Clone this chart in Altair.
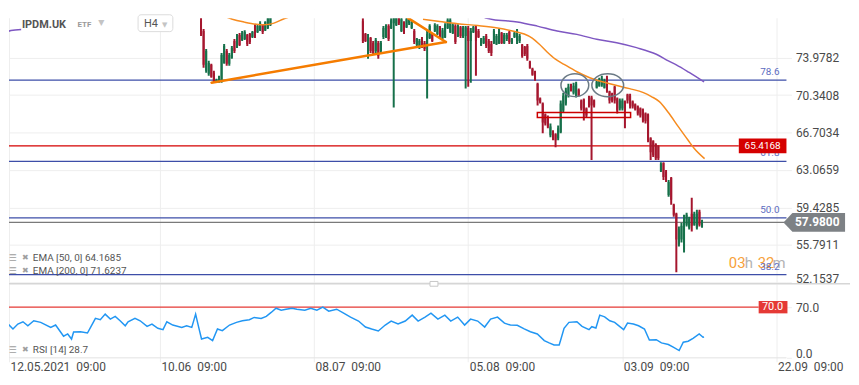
import altair as alt
import numpy as np
import pandas as pd

# ---------------- candles (x = 4h trading-bar index, 0 = 12.05.2021 09:00) ----------------
SEG1_START = 76
OPEN_1 = [77.52, 76.56, 72.70, 72.41, 73.28, 72.51, 71.64, 71.64, 71.74, 73.47, 74.63, 73.38, 73.96, 75.59,
          75.02, 76.17, 75.69, 75.79, 76.17, 76.27, 75.98, 77.04, 76.46, 76.65, 77.14, 76.65, 76.85, 77.14]
HIGH_1 = [78.10, 76.75, 74.82, 73.67, 73.38, 72.70, 71.93, 72.22, 74.44, 75.30, 74.82, 74.44, 75.11, 75.79,
          76.27, 76.37, 76.56, 76.65, 76.27, 76.37, 76.56, 77.23, 77.23, 77.52, 77.23, 77.52, 78.00, 78.29]
LOW_1 = [76.08, 72.99, 72.51, 72.22, 72.03, 71.55, 71.55, 71.55, 71.55, 73.38, 73.18, 73.18, 73.86, 74.44,
         74.92, 75.11, 75.59, 75.69, 75.11, 75.30, 75.88, 75.88, 76.37, 76.56, 76.27, 76.56, 76.75, 77.04]
CLOSE_1 = [76.27, 73.28, 74.63, 73.47, 72.12, 71.64, 71.83, 72.12, 74.24, 75.11, 73.38, 74.24, 74.92, 74.63,
           76.08, 75.21, 76.37, 76.46, 75.30, 75.50, 76.46, 76.08, 77.04, 77.33, 76.46, 77.43, 77.81, 78.10]

SEG2_START = 139
OPEN_2 = [77.52, 76.27, 74.15, 75.88, 75.40, 74.63, 75.40, 74.63, 75.98, 76.08, 77.04, 76.85, 77.33, 77.14,
          77.81, 76.56, 77.33, 76.94, 77.33, 76.85, 76.56, 75.21, 74.92, 75.79, 75.40, 75.11, 75.88, 76.27,
          76.56, 76.27, 76.94, 75.88, 75.98, 76.85, 76.46, 76.37,
          77.04, 76.08, 76.94, 75.98, 76.08, 76.85, 75.59, 76.46, 76.94, 76.56, 75.21, 75.40, 76.08, 75.59,
          75.30, 75.40, 75.30, 75.40, 76.37, 75.40, 75.79, 76.46, 75.40, 75.98, 75.59, 75.59, 75.21, 75.02,
          75.11, 73.57, 72.89, 72.61, 71.45, 70.00, 69.52, 68.46, 68.07, 66.44, 66.82, 66.53, 66.15,
          66.73, 68.85, 69.52, 70.29, 71.35, 70.58, 70.20, 70.87, 69.81, 69.91, 69.04, 70.20, 70.10, 69.81,
          71.06, 71.26, 71.35, 71.06, 72.03, 70.68, 70.48, 71.16, 70.00, 69.04, 69.04, 69.71, 70.39, 70.29,
          69.71, 69.42, 69.23, 69.04, 68.94, 68.56, 68.46, 66.15, 65.86, 65.57, 65.38, 62.97, 63.74, 62.87,
          60.65, 62.29, 59.69, 58.82, 55.83, 56.31, 55.35, 57.76, 57.47, 58.82, 57.76, 57.47, 59.01, 57.57]
HIGH_2 = [77.81, 76.37, 76.27, 75.98, 75.59, 75.88, 75.59, 75.59, 77.04, 77.23, 77.23, 77.81, 78.00, 78.10,
          78.10, 78.00, 77.52, 77.91, 78.00, 77.62, 76.75, 75.88, 75.79, 75.98, 75.59, 76.56, 77.23, 76.37,
          77.33, 77.23, 77.04, 76.85, 77.33, 77.81, 77.81, 77.33,
          77.23, 77.23, 77.04, 77.04, 77.04, 77.04, 76.85, 77.04, 77.04, 76.75, 75.88, 76.08, 76.27, 75.79,
          75.59, 76.75, 76.27, 76.75, 76.46, 76.37, 76.37, 76.56, 75.88, 76.56, 76.75, 76.27, 75.30, 75.11,
          75.30, 73.67, 72.99, 72.70, 71.55, 70.10, 69.62, 68.56, 68.36, 67.59, 66.92, 66.63, 67.40,
          69.81, 70.58, 71.06, 71.45, 71.45, 71.55, 71.64, 70.97, 69.91, 70.00, 69.14, 70.29, 70.29, 69.91,
          71.83, 72.03, 72.22, 71.93, 72.22, 70.77, 70.58, 71.26, 70.10, 70.00, 70.00, 69.81, 70.48, 70.48,
          69.81, 69.52, 69.33, 69.14, 69.04, 68.65, 68.56, 66.24, 65.95, 65.66, 65.47, 63.83, 63.83, 63.06,
          62.10, 62.39, 59.78, 58.92, 57.57, 57.95, 58.72, 58.92, 58.53, 60.36, 59.01, 59.21, 59.21, 58.24]
LOW_2 = [75.40, 75.50, 73.86, 74.44, 74.34, 74.34, 73.86, 74.44, 75.79, 75.88, 75.59, 76.75, 69.14, 77.04,
         77.14, 76.46, 76.27, 76.85, 77.14, 76.75, 75.30, 75.11, 74.82, 74.92, 74.63, 70.00, 75.79, 75.50,
         76.46, 76.17, 75.88, 75.79, 75.88, 76.75, 76.37, 76.27,
         75.30, 75.98, 75.88, 75.88, 70.97, 71.16, 71.55, 76.37, 72.22, 75.88, 75.11, 75.30, 74.92, 74.44,
         74.15, 75.30, 75.21, 75.30, 75.30, 75.30, 75.59, 75.30, 75.30, 75.88, 75.30, 75.40, 73.96, 74.15,
         73.67, 72.89, 72.22, 71.74, 69.33, 69.52, 66.63, 67.40, 67.11, 66.24, 65.95, 65.28, 65.95,
         66.63, 68.65, 69.33, 70.10, 70.68, 70.39, 70.10, 70.20, 68.85, 67.88, 68.17, 69.14, 64.03, 69.14,
         70.97, 71.16, 71.16, 70.97, 70.58, 69.52, 69.62, 69.52, 68.56, 68.85, 68.85, 67.11, 69.52, 69.04,
         69.04, 68.85, 68.36, 68.17, 67.69, 67.59, 65.76, 64.03, 64.32, 64.03, 64.03, 62.87, 62.10, 61.91,
         60.46, 59.69, 58.53, 53.13, 55.64, 56.02, 55.06, 57.57, 57.28, 57.09, 57.66, 57.28, 57.57, 57.47]
CLOSE_2 = [75.59, 75.59, 75.98, 74.63, 74.44, 75.69, 74.15, 75.40, 76.85, 77.04, 75.79, 77.62, 77.81, 77.91,
           77.33, 77.71, 76.46, 77.71, 77.81, 77.43, 75.50, 75.79, 75.59, 75.11, 74.82, 76.27, 77.04, 75.59,
           77.14, 77.04, 76.08, 76.65, 77.14, 77.62, 77.62, 77.14,
           75.50, 77.04, 76.08, 76.85, 76.94, 75.59, 76.56, 76.94, 75.59, 75.98, 75.69, 75.88, 75.11, 74.63,
           74.44, 76.56, 76.08, 76.56, 75.40, 76.17, 76.17, 75.50, 75.79, 76.37, 76.56, 76.08, 74.15, 74.34,
           73.86, 72.99, 72.32, 71.83, 69.81, 69.62, 67.69, 67.59, 67.30, 67.30, 66.15, 65.95, 67.11,
           69.52, 70.29, 70.77, 71.16, 70.77, 71.26, 71.45, 70.29, 69.04, 68.85, 68.36, 69.33, 69.33, 69.33,
           71.64, 71.83, 71.93, 71.74, 70.77, 69.81, 69.81, 69.81, 68.85, 69.81, 69.81, 68.85, 69.81, 69.33,
           69.23, 68.94, 68.56, 68.36, 67.88, 67.79, 65.95, 64.80, 64.51, 64.22, 64.22, 63.64, 62.39, 62.10,
           61.91, 60.17, 58.72, 56.31, 57.28, 57.66, 58.24, 58.72, 58.34, 57.66, 58.82, 58.82, 57.76, 57.98]

# ---------------- indicators ----------------
EMA50_BAR_1 = [85.1, 88.2, 92.9, 97.5, 100.6, 104.4, 108.3, 111.0]
EMA50_VAL_1 = [78.00, 77.71, 77.43, 77.23, 77.18, 77.33, 77.76, 78.00]
EMA50_BAR_2 = [162.4, 168.2, 175.9, 183.7, 191.4, 197.2, 201.8, 204.9, 207.6, 210.7, 213.8, 217.3, 222.3,
               227.3, 235.1, 242.8, 248.2, 251.3, 254.4, 257.9, 261.7, 265.6, 267.9, 272.0]
EMA50_VAL_2 = [77.71, 77.52, 77.28, 77.09, 76.85, 76.56, 76.27, 75.88, 75.30, 74.53, 73.86, 73.33, 72.61,
               72.03, 71.45, 70.97, 70.58, 70.20, 69.71, 68.65, 67.30, 65.95, 65.18, 64.17]
EMA200_BAR_1 = [0.0, 2.0, 6.0]
EMA200_VAL_1 = [76.40, 76.62, 76.72]
EMA200_BAR_2 = [186.4, 189.5, 199.1, 206.9, 214.6, 222.3, 230.0, 237.8, 245.5, 253.2, 257.9, 261.0, 266.0, 271.8]
EMA200_VAL_2 = [77.86, 77.69, 77.45, 77.04, 76.56, 76.24, 75.76, 75.43, 74.95, 74.31, 73.67, 73.28, 72.54, 71.62]

RSI_BAR = [-0.7, 2.8, 4.7, 6.7, 8.6, 10.9, 13.6, 17.5, 19.4, 22.5, 24.1, 25.6, 26.4, 29.1, 31.8, 33.0, 34.9,
           36.8, 38.7, 40.7, 42.6, 44.5, 46.5, 47.6, 50.3, 52.3, 55.0, 56.9, 59.2, 61.2, 62.7, 65.0, 68.5,
           70.4, 72.4, 73.9, 75.1, 76.2, 78.6, 80.5, 82.4, 84.3, 87.1, 89.8, 92.1, 94.8, 96.7, 99.4, 101.4,
           103.3, 105.2, 107.2, 109.1, 111.4, 113.3,
           116.4, 118.7, 121.1, 123.4, 125.7, 128.8, 131.5, 134.2, 137.3, 140.0, 142.4, 145.0, 147.7, 150.0,
           152.7, 155.5, 158.2, 160.5, 163.2, 165.5, 168.2, 170.9, 173.2, 175.9, 178.6, 180.9, 183.7, 186.4,
           188.7, 191.4, 194.1, 196.4, 199.1, 201.8, 204.2,
           206.9, 209.6, 211.5, 213.4, 215.4, 216.1, 217.3, 219.2, 222.3, 224.3, 227.0, 228.1, 229.7, 231.2,
           233.1, 235.1, 237.0, 238.9, 240.5, 242.0, 244.3, 246.3, 248.6, 250.5, 253.2, 255.2, 257.9, 259.8,
           262.1, 263.7, 265.6, 267.5, 269.9, 271.4, 271.8]
RSI_VAL = [52.6, 39.8, 46.7, 49.8, 44.3, 51.2, 49.0, 42.0, 45.3, 29.8, 33.0, 26.0, 35.7, 36.0, 34.3, 42.0, 54.5,
           52.6, 60.4, 53.5, 57.2, 51.2, 44.3, 49.8, 54.5, 51.2, 43.5, 46.7, 40.8, 38.9, 49.8, 45.3, 42.0,
           44.3, 42.0, 60.4, 42.0, 26.0, 28.4, 23.8, 39.8, 37.5, 45.3, 49.0, 51.2, 52.6, 55.8, 54.5, 57.2,
           62.7, 68.6, 65.9, 67.2, 68.6, 67.2,
           65.9, 68.6, 65.9, 70.0, 64.5, 67.2, 61.8, 56.3, 50.8, 42.5, 39.8, 37.1, 45.3, 50.8,
           46.7, 50.8, 59.0, 50.8, 56.3, 61.8, 53.5, 59.0, 50.8, 56.3, 45.3, 53.5, 50.8, 42.5,
           53.5, 56.3, 48.0, 45.3, 45.0, 40.0, 36.0,
           33.0, 23.8, 20.6, 17.8, 17.8, 26.0, 40.8, 49.0, 49.8, 43.5, 38.9, 43.0, 41.2, 59.0,
           56.7, 51.2, 49.0, 43.5, 38.9, 48.0, 46.7, 44.3, 39.8, 24.7, 25.1, 20.6, 18.3, 14.7,
           10.0, 21.5, 22.9, 27.0, 33.0, 28.4, 28.7]

# ---------------- levels and drawings ----------------
FIB_LEVELS = [71.80, 63.90, 58.41, 52.91]
FIB_NAMES = ["78.6", "61.8", "50.0", "38.2"]
RES_LEVEL = [65.4168]
LAST_PRICE = [57.98]
RSI_LEVEL = [70.0]
TREND_BAR = [80.1, 171.3]
TREND_VAL = [71.55, 75.50]
TREND2_BAR = [156.6, 171.3]
TREND2_VAL = [77.81, 75.50]
ELLIPSE_BAR = [221.5, 234.3]
ELLIPSE_VAL = [71.30, 71.30]
BOX_BAR = [206.9, 243.2]
BOX_VAL = [68.65, 68.17]

PRICE_TICKS = [52.1537, 55.7911, 59.4285, 63.0659, 66.7034, 70.3408, 73.9782]
RSI_TICKS = [0, 70]
DATE_BARS = [1.26, 60, 120, 180, 240, 300]
DATE_LABELS = ["12.05.2021\u00a0 09:00", "10.06\u00a0 09:00", "08.07\u00a0 09:00",
               "05.08\u00a0 09:00", "03.09\u00a0 09:00", "22.09\u00a0 09:00"]
SYMBOL = "IPDM.UK"
KIND = "ETF"
TIMEFRAME = "H4"
EMA_LEGENDS = ["EMA [50, 0] 64.1685", "EMA [200, 0] 71.6237"]
RSI_LEGEND = "RSI [14] 28.7"
COUNTDOWN = ["03", "h", "32", "m"]

# ---------------- layout / style ----------------
W, H_PRICE, H_RSI = 783, 277, 74
X_DOMAIN = [1.256, 303.865]
PRICE_DOMAIN = [51.9628, 78.6744]
RSI_DOMAIN = [0, 101.56]
FONT = "Roboto"
LABEL_COLOR = "#4a4a4a"
GRID = "#eeeeee"
FIB_COLOR = "#3d4ea8"
FIB_TEXT = "#5c6bc0"

rows = []
for start, o, h, l, c in [(SEG1_START, OPEN_1, HIGH_1, LOW_1, CLOSE_1),
                          (SEG2_START, OPEN_2, HIGH_2, LOW_2, CLOSE_2)]:
    n = min(len(o), len(h), len(l), len(c))
    for i in range(n):
        rows.append(dict(bar=start + i, open=o[i], high=h[i], low=l[i], close=c[i]))
candles = pd.DataFrame(rows)
candles["dir"] = np.where(candles["close"] >= candles["open"], "up", "down")

xs = alt.Scale(domain=X_DOMAIN, nice=False, zero=False)
ys = alt.Scale(domain=PRICE_DOMAIN, nice=False, zero=False)
rs = alt.Scale(domain=RSI_DOMAIN, nice=False, zero=False)

AX_X_PRICE = alt.Axis(values=DATE_BARS, labels=False, ticks=False, domain=False, grid=True,
                      gridColor=GRID, title=None)
AX_Y_PRICE = alt.Axis(orient="right", values=PRICE_TICKS, format=".4f", grid=True, gridColor=GRID,
                      domain=False, ticks=True, tickSize=5, tickColor=GRID, labelPadding=4,
                      labelFontSize=12, labelColor=LABEL_COLOR, labelFont=FONT, labelFlush=False,
                      labelBaseline={"condition": {"test": "datum.value < 53", "value": "alphabetic"},
                                     "value": "middle"}, title=None)
label_expr = " : ".join(f"abs(datum.value - {b}) < 1 ? '{t}'" for b, t in zip(DATE_BARS, DATE_LABELS)) + " : ''"
AX_X_RSI = alt.Axis(values=DATE_BARS, labelExpr=label_expr, grid=True, gridColor=GRID, ticks=True,
                    tickSize=4, tickColor=GRID, domain=False, labelAlign="left", labelBaseline="top",
                    labelPadding=0, labelOffset=1, labelFontSize=12, labelColor=LABEL_COLOR,
                    labelFont=FONT, labelFlush=False, labelOverlap=False, title=None)
AX_Y_RSI = alt.Axis(orient="right", values=RSI_TICKS, format=".1f", grid=False, domain=False,
                    ticks=True, tickSize=5, tickColor=GRID, labelPadding=4, labelFontSize=12,
                    labelColor=LABEL_COLOR, labelFont=FONT, labelFlush=False,
                    labelBaseline={"condition": {"test": "datum.value < 1", "value": "alphabetic"},
                                   "value": "middle"}, title=None)


def PX(f="bar"):
    return alt.X(f"{f}:Q", scale=xs, axis=AX_X_PRICE)


def PY(f):
    return alt.Y(f"{f}:Q", scale=ys, axis=AX_Y_PRICE)


def RX(f="bar"):
    return alt.X(f"{f}:Q", scale=xs, axis=AX_X_RSI)


def RY(f):
    return alt.Y(f"{f}:Q", scale=rs, axis=AX_Y_RSI)


def one(s):
    return alt.Chart(pd.DataFrame({"t": [s]}))


def txt(s, x, y, **kw):
    base = dict(align="left", baseline="middle", font=FONT)
    base.update(kw)
    return one(s).mark_text(**base).encode(x=alt.value(x), y=alt.value(y), text="t:N")


def ellipse_path(r):
    k = 0.5523
    return (f"M -1 0 C -1 {-k*r:.3f} {-k:.3f} {-r:.3f} 0 {-r:.3f} "
            f"C {k:.3f} {-r:.3f} 1 {-k*r:.3f} 1 0 C 1 {k*r:.3f} {k:.3f} {r:.3f} 0 {r:.3f} "
            f"C {-k:.3f} {r:.3f} -1 {k*r:.3f} -1 0 Z")


def rect_path(h):
    return f"M -1 {-h} L 1 {-h} L 1 {h} L -1 {h} Z"


ARROW_PATH = "M -1 0 L -0.71 -0.306 L 1 -0.306 L 1 0.306 L -0.71 0.306 Z"

# ---------------- price panel ----------------
levels = pd.DataFrame({"v": FIB_LEVELS, "name": FIB_NAMES})
fib_lines = alt.Chart(levels).mark_rule(color=FIB_COLOR, strokeWidth=1.2).encode(y=PY("v"))
res_df = pd.DataFrame({"v": RES_LEVEL})
res_line = alt.Chart(res_df).mark_rule(color="#d50000", strokeWidth=1.3).encode(
    x=alt.value(0), x2=alt.value(735), y=PY("v"))
last_df = pd.DataFrame({"v": LAST_PRICE})
last_line = alt.Chart(last_df).mark_rule(color="#7a7a7a", strokeWidth=1.2).encode(y=PY("v"))

wicks = alt.Chart(candles).mark_rule(strokeWidth=2, clip=True).encode(
    x=PX(), y=PY("low"), y2="high:Q",
    color=alt.Color("dir:N", scale=alt.Scale(domain=["up", "down"], range=["#16704a", "#a5162e"]), legend=None))
bodies = alt.Chart(candles).mark_rule(strokeWidth=2, clip=True).encode(
    x=PX(), y=PY("open"), y2="close:Q",
    color=alt.Color("dir:N", scale=alt.Scale(domain=["up", "down"], range=["#2bb06c", "#f0364f"]), legend=None))

ema50 = pd.DataFrame({"bar": EMA50_BAR_1 + EMA50_BAR_2, "v": EMA50_VAL_1 + EMA50_VAL_2,
                      "seg": ["a"] * len(EMA50_BAR_1) + ["b"] * len(EMA50_BAR_2)})
ema200 = pd.DataFrame({"bar": EMA200_BAR_1 + EMA200_BAR_2, "v": EMA200_VAL_1 + EMA200_VAL_2,
                       "seg": ["a"] * len(EMA200_BAR_1) + ["b"] * len(EMA200_BAR_2)})
ema50_line = alt.Chart(ema50).mark_line(color="#f68b1f", strokeWidth=1.5, clip=True, interpolate="monotone").encode(
    x=PX(), y=PY("v"), detail="seg:N")
ema200_line = alt.Chart(ema200).mark_line(color="#7e57c2", strokeWidth=1.5, clip=True, interpolate="monotone").encode(
    x=PX(), y=PY("v"), detail="seg:N")

trend = pd.DataFrame({"bar": TREND_BAR + TREND2_BAR, "v": TREND_VAL + TREND2_VAL,
                      "seg": ["t1"] * len(TREND_BAR) + ["t2"] * len(TREND2_BAR)})
trend_lines = alt.Chart(trend).mark_line(color="#f57c00", strokeWidth=2.6, clip=True, strokeCap="round").encode(
    x=PX(), y=PY("v"), detail="seg:N")

ell_layers = []
for i, (b, v) in enumerate(zip(ELLIPSE_BAR, ELLIPSE_VAL)):
    wpx, ratio = (28, 0.82) if i == 0 else (32, 0.72)
    ell_layers.append(
        alt.Chart(pd.DataFrame({"bar": [b], "v": [v]})).mark_point(
            shape=ellipse_path(ratio), size=wpx * wpx, filled=False, color="#6b7a85",
            strokeWidth=1.5, opacity=1).encode(x=PX(), y=PY("v")))

box_df = pd.DataFrame({"b1": [BOX_BAR[0]], "b2": [BOX_BAR[1]], "v1": [BOX_VAL[0]], "v2": [BOX_VAL[1]]})
box = alt.Chart(box_df).mark_rect(fillOpacity=0, stroke="#cc0000", strokeWidth=1.5).encode(
    x=PX("b1"), x2="b2:Q", y=PY("v1"), y2="v2:Q")

mask = one("").mark_rect(color="white").encode(x=alt.value(0), x2=alt.value(W), y=alt.value(0), y2=alt.value(9))
separator = one("").mark_rule(color="#d6d6d6", strokeWidth=1.5).encode(
    x=alt.value(0), x2=alt.value(847), y=alt.value(276.5))
handle = one("").mark_point(shape=rect_path(0.6), size=64, filled=True, color="#ffffff", stroke="#c8c8c8",
                            strokeWidth=1, opacity=1).encode(x=alt.value(428), y=alt.value(276.5))

h4_box = one("").mark_rect(fill="white", stroke="#dcdcdc", strokeWidth=1, cornerRadius=3).encode(
    x=alt.value(130), x2=alt.value(165), y=alt.value(5.5), y2=alt.value(22.5))

countdown = [
    txt(COUNTDOWN[0], 725, 256, fontSize=15, color="#f7a23b"),
    txt(COUNTDOWN[1], 741, 256, fontSize=15, color="#b3b3b3"),
    txt(COUNTDOWN[2], 754, 256, fontSize=15, color="#f7a23b"),
    txt(COUNTDOWN[3], 769, 256, fontSize=15, color="#b3b3b3"),
]
fib_text = alt.Chart(levels).mark_text(align="right", baseline="bottom", dy=-3, fontSize=10,
                                       color=FIB_TEXT, font=FONT).encode(
    x=alt.value(776), y=PY("v"), text="name:N")

res_box = alt.Chart(res_df).mark_point(shape=rect_path(0.31), size=48 * 48, filled=True, color="#d50000",
                                       opacity=1, strokeWidth=0).encode(x=alt.value(759), y=PY("v"))
res_text = alt.Chart(res_df).mark_text(color="white", fontSize=10, font=FONT).encode(
    x=alt.value(759), y=PY("v"), text=alt.Text("v:Q", format=".4f"))
last_box = alt.Chart(last_df).mark_point(shape=ARROW_PATH, size=62 * 62, filled=True, color="#7d8185",
                                         opacity=1, strokeWidth=0).encode(x=alt.value(811), y=PY("v"))
last_text = alt.Chart(last_df).mark_text(color="white", fontSize=12, fontWeight="bold", font=FONT).encode(
    x=alt.value(814), y=PY("v"), text=alt.Text("v:Q", format=".4f"))

title_layers = [
    txt(SYMBOL, 13, 15.5, fontSize=11, fontWeight="bold", color="#555555"),
    txt(KIND, 69, 16, fontSize=8, fontWeight="bold", color="#9a9a9a"),
    txt("\u25bc", 90, 13.5, fontSize=8, color="#c4c4c4", font="DejaVu Sans"),
    txt(TIMEFRAME, 136, 15, fontSize=11, color="#555555"),
    txt("\u25bc", 154, 15.5, fontSize=7, color="#c4c4c4", font="DejaVu Sans"),
]
legend_layers = []
for j, s in enumerate(EMA_LEGENDS):
    yy = 250 + 13.5 * j
    legend_layers += [
        txt("\u2630", 0, yy, fontSize=9, color="#9e9e9e", font="DejaVu Sans"),
        txt("\u2716", 13, yy, fontSize=8, color="#9e9e9e", font="DejaVu Sans"),
        txt(s, 24, yy, fontSize=10, color="#555555"),
    ]

price = alt.layer(
    fib_lines, res_line, last_line, wicks, bodies, ema50_line, ema200_line, trend_lines, *ell_layers, box,
    mask, h4_box, *title_layers, separator, handle, *countdown, fib_text, res_box, res_text,
    last_box, last_text, *legend_layers,
).properties(width=W, height=H_PRICE)

# ---------------- RSI panel ----------------
rsi_df = pd.DataFrame({"bar": RSI_BAR, "v": RSI_VAL})
rsi_line = alt.Chart(rsi_df).mark_line(color="#2196f3", strokeWidth=1.5, clip=True).encode(x=RX(), y=RY("v"))
rsi_lvl = pd.DataFrame({"v": RSI_LEVEL})
rsi_rule = alt.Chart(rsi_lvl).mark_rule(color="#e53935", strokeWidth=1.3).encode(
    x=alt.value(0), x2=alt.value(755), y=RY("v"))
rsi_box = alt.Chart(rsi_lvl).mark_point(shape=rect_path(0.43), size=29 * 29, filled=True, color="#e53935",
                                        opacity=1, strokeWidth=0).encode(x=alt.value(769.5), y=RY("v"))
rsi_box_text = alt.Chart(rsi_lvl).mark_text(color="white", fontSize=11, font=FONT).encode(
    x=alt.value(769), y=RY("v"), text=alt.Text("v:Q", format=".1f"))
bottom_border = one("").mark_rule(color="#e2e2e2", strokeWidth=1).encode(
    x=alt.value(0), x2=alt.value(W), y=alt.value(H_RSI))
rsi_legend = [
    txt("\u2630", 0, 66, fontSize=9, color="#9e9e9e", font="DejaVu Sans"),
    txt("\u2716", 13, 66, fontSize=8, color="#9e9e9e", font="DejaVu Sans"),
    txt(RSI_LEGEND, 24, 66, fontSize=10, color="#555555"),
]

rsi = alt.layer(rsi_rule, rsi_line, bottom_border, rsi_box, rsi_box_text, *rsi_legend).properties(
    width=W, height=H_RSI)

chart = alt.vconcat(price, rsi, spacing=0, bounds="flush").properties(
    padding=0, background="white"
).configure(font=FONT).configure_view(stroke=None)

chart.save("out.html", embed_options={"renderer": "svg", "actions": False})
